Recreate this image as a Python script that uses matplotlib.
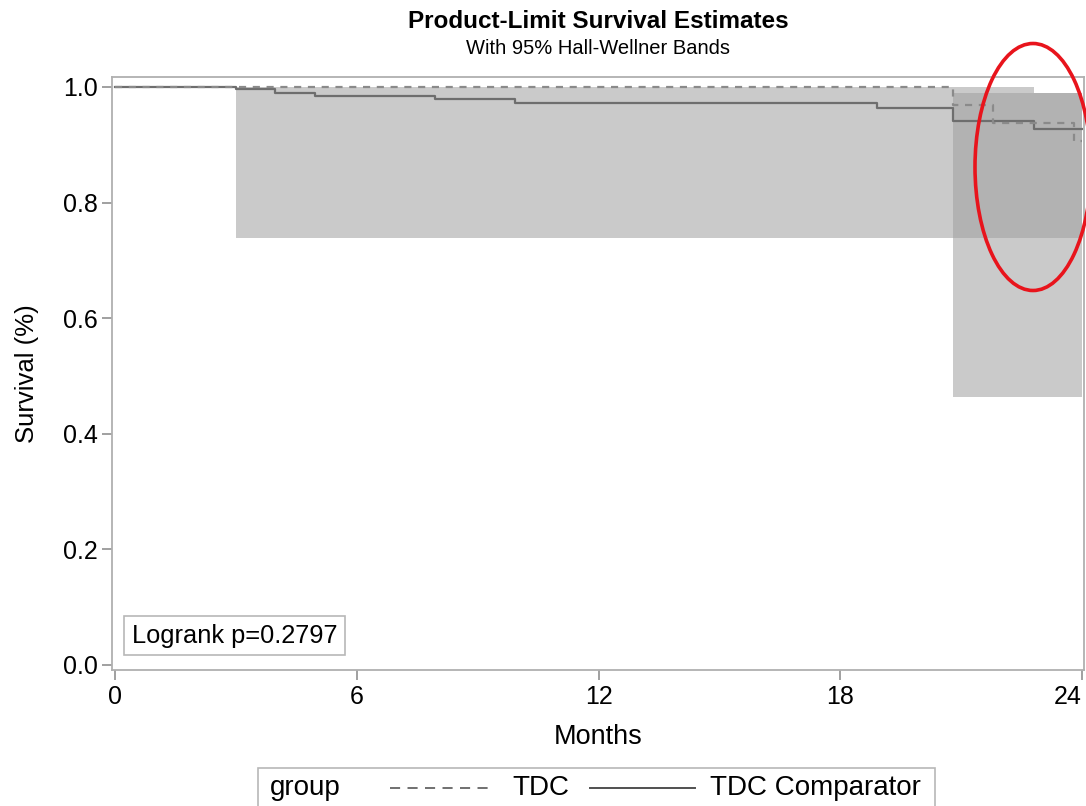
import numpy as np
import matplotlib
matplotlib.use("Agg")
from matplotlib import pyplot as plt
from matplotlib.patches import Ellipse, Rectangle
from matplotlib.lines import Line2D

plt.rcParams['font.family'] = ['Liberation Sans', 'DejaVu Sans']

# Kaplan-Meier steps
tdc_time = [0, 20.8, 21.8, 23.8, 24.0]
tdc_surv = [1.0, 0.968, 0.937, 0.906, 0.906]
comp_time = [0, 3.0, 3.97, 4.96, 7.94, 9.93, 18.9, 20.8, 22.8, 24.0]
comp_surv = [1.0, 0.996, 0.990, 0.985, 0.979, 0.972, 0.964, 0.941, 0.928, 0.928]

# 95% Hall-Wellner bands
comp_band_time = [3.0, 22.8, 24.0]
comp_band_low = [0.739, 0.739, 0.739]
comp_band_high = [1.0, 0.99, 0.99]
tdc_band_time = [20.8, 24.0]
tdc_band_low = [0.464, 0.464]
tdc_band_high = [0.99, 0.99]

x_ticks = [0, 6, 12, 18, 24]
y_ticks = [0.0, 0.2, 0.4, 0.6, 0.8, 1.0]
p_text = "Logrank p=0.2797"

W, H = 1086, 806
fig = plt.figure(figsize=(W / 100, H / 100), dpi=100)
ax = fig.add_axes([112 / W, 1 - 670 / H, (1084 - 112) / W, (670 - 77) / H])

band_c = '#a0a0a0'
ax.fill_between(comp_band_time, comp_band_low, comp_band_high, step='post',
                color=band_c, alpha=0.55, lw=0)
ax.fill_between(tdc_band_time, tdc_band_low, tdc_band_high, step='post',
                color=band_c, alpha=0.55, lw=0)

ax.step(comp_time, comp_surv, where='post', color='#6e6e6e', lw=1.6)
ax.step(tdc_time, tdc_surv, where='post', color='#8a8a8a', lw=1.6,
        linestyle=(0, (3.2, 3.0)))

ax.set_xlim(-0.075, 24.05)
ax.set_ylim(-0.0087, 1.0173)
ax.set_xticks(x_ticks)
ax.set_yticks(y_ticks)
ax.set_yticklabels([f"{v:.1f}" for v in y_ticks])
ax.tick_params(labelsize=18, color='#909090', length=7, width=1.2,
               direction='out')
# last x label sits against the right edge, as in SAS output
ax.get_xticklabels()[-1].set_horizontalalignment('right')
for s in ax.spines.values():
    s.set_color('#b0b0b0')
    s.set_linewidth(1.3)

ax.set_xlabel("Months", fontsize=19.5, va='center')
ax.xaxis.set_label_coords(0.5, (670 - 737) / 593)
ax.set_ylabel("Survival (%)", fontsize=18.5, va='center')
ax.yaxis.set_label_coords((27 - 112) / 972, 0.5)

fig.text(598 / W, 1 - 21 / H, "Product-Limit Survival Estimates",
         ha='center', va='center', fontsize=17.5, fontweight='bold')
fig.text(598 / W, 1 - 49 / H, "With 95% Hall-Wellner Bands",
         ha='center', va='center', fontsize=14.5)

ax.text(0.0205, 0.058, p_text, transform=ax.transAxes, fontsize=18.3,
        va='center', ha='left',
        bbox=dict(boxstyle='square,pad=0.3', fc='white', ec='#b8b8b8', lw=1.2))

# legend drawn at the bottom, box cut by the image edge
fig.add_artist(Rectangle((258 / W, -0.01), (935 - 258) / W, (1 - 768 / H) + 0.01,
                         transform=fig.transFigure, fill=False,
                         ec='#b8b8b8', lw=1.2))
ly = 1 - 788 / H
fig.text(270 / W, ly, "group", fontsize=20, va='center', ha='left')
fig.add_artist(Line2D([390 / W, 490 / W], [ly, ly], transform=fig.transFigure,
                      color='#707070', lw=1.4, linestyle=(0, (5.2, 3.8))))
fig.text(512 / W, ly, "TDC", fontsize=20, va='center', ha='left')
fig.add_artist(Line2D([590 / W, 695 / W], [ly, ly], transform=fig.transFigure,
                      color='#505050', lw=1.4))
fig.text(710 / W, ly, "TDC Comparator", fontsize=20, va='center', ha='left')

fig.add_artist(Ellipse((1033 / W, 1 - 167 / H), 116 / W, 247 / H,
                       transform=fig.transFigure, fill=False,
                       ec='#e8141c', lw=2.6, clip_on=False))

fig.savefig("out.png", dpi=100)
